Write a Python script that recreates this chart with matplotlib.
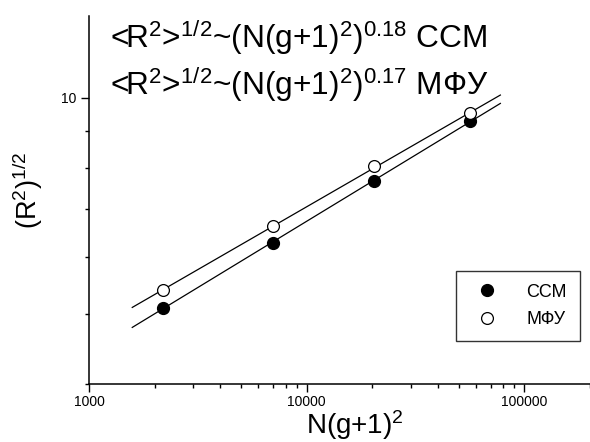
import numpy as np
import matplotlib
matplotlib.use("Agg")
import matplotlib.pyplot as plt
from matplotlib.ticker import LogLocator, FixedLocator, NullFormatter, FuncFormatter

plt.rcParams['font.family'] = ['Liberation Sans', 'DejaVu Sans']
plt.rcParams['mathtext.fontset'] = 'custom'
plt.rcParams['mathtext.rm'] = 'Liberation Sans'
plt.rcParams['mathtext.it'] = 'Liberation Sans:italic'

# data
n_ssm = [2180, 7000, 20400, 56500]
r_ssm = [5.10, 6.29, 7.67, 9.29]
n_mfu = [2180, 7000, 20400, 56500]
r_mfu = [5.40, 6.63, 8.03, 9.52]
fit_range = [1580, 77500]
labels = ['ССМ', 'МФУ']
exponents = ['0.18', '0.17']

fig = plt.figure(figsize=(5.9, 4.42), dpi=100)
ax = fig.add_axes([89 / 590, 1 - 384 / 442, 501 / 590, 368 / 442])

# power-law fits through the points (straight lines in log-log)
xf = np.array(fit_range, dtype=float)
for xs, ys in [(n_ssm, r_ssm), (n_mfu, r_mfu)]:
    k, b = np.polyfit(np.log10(xs), np.log10(ys), 1)
    ax.plot(xf, 10 ** (b + k * np.log10(xf)), color='black', lw=0.9)

ax.plot(n_ssm, r_ssm, 'o', color='black', ms=8.5, label=labels[0], zorder=3)
ax.plot(n_mfu, r_mfu, 'o', mfc='white', mec='black', mew=0.9, ms=8.5,
        label=labels[1], zorder=4)

ax.set_xscale('log')
ax.set_yscale('log')
ax.set_xlim(1000, 200000)
ax.set_ylim(4, 13)

ax.xaxis.set_major_locator(FixedLocator([1000, 10000, 100000]))
ax.xaxis.set_major_formatter(FuncFormatter(lambda v, p: '%d' % v))
ax.xaxis.set_minor_locator(LogLocator(base=10, subs=np.arange(2, 10)))
ax.xaxis.set_minor_formatter(NullFormatter())
ax.yaxis.set_major_locator(FixedLocator([10]))
ax.yaxis.set_major_formatter(FuncFormatter(lambda v, p: '%d' % v))
ax.yaxis.set_minor_locator(FixedLocator([4, 5, 6, 7, 8, 9]))
ax.yaxis.set_minor_formatter(NullFormatter())

ax.tick_params(which='major', direction='out', length=5.5, width=1.0, labelsize=10)
ax.tick_params(axis='x', which='major', pad=2.5)
ax.tick_params(which='minor', direction='out', length=3, width=1.0)
for s in ['top', 'right']:
    ax.spines[s].set_visible(False)
for s in ['left', 'bottom']:
    ax.spines[s].set_linewidth(1.1)

fig.text(306 / 590, 1 - 434 / 442, 'N(g+1)$\\mathregular{^2}$', fontsize=20,
         ha='left', va='baseline')
fig.text(0.047, 1 - 191 / 442, '(R$\\mathregular{^2}$)$\\mathregular{^{1/2}}$', rotation=90,
         fontsize=19.5, ha='center', va='center')

for i in range(2):
    fig.text(110 / 590, 1 - (48 + 47 * i) / 442,
             '<R$\\mathregular{^2}$>$\\mathregular{^{1/2}}$~(N(g+1)$\\mathregular{^2}$)'
             '$\\mathregular{^{' + exponents[i] + '}}$ ' + labels[i],
             fontsize=22.8, ha='left', va='baseline')

leg = ax.legend(loc='upper left', fontsize=13, frameon=True,
                fancybox=False, edgecolor='black', handletextpad=1.2,
                borderpad=0.7, labelspacing=0.6, borderaxespad=0)
leg.get_frame().set_linewidth(1.0)
leg.set_bbox_to_anchor((456 / 590, 1 - 271 / 442), transform=fig.transFigure)

fig.savefig('out.png', dpi=100)
